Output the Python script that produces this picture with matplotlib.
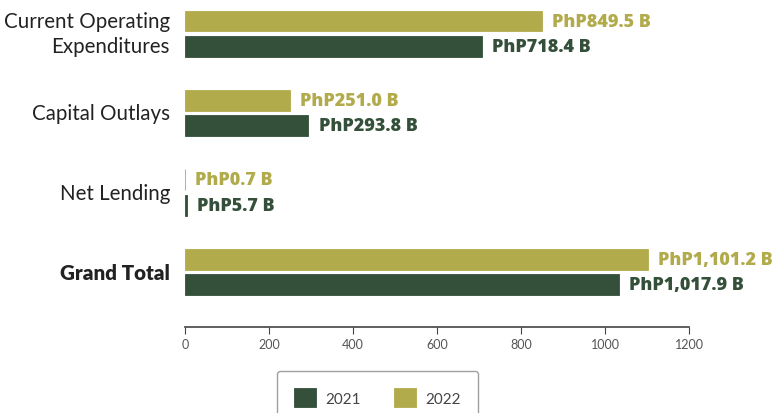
import matplotlib.pyplot as plt
import numpy as np

categories = ['Current Operating\nExpenditures', 'Capital Outlays', 'Net Lending', 'Grand Total']
# bar lengths (billion PhP)
vals_2021 = [706, 294, 5.7, 1034]
vals_2022 = [849.5, 251.0, 0.7, 1101.2]
labels_2021 = ['PhP718.4 B', 'PhP293.8 B', 'PhP5.7 B', 'PhP1,017.9 B']
labels_2022 = ['PhP849.5 B', 'PhP251.0 B', 'PhP0.7 B', 'PhP1,101.2 B']
xticks = [0, 200, 400, 600, 800, 1000, 1200]

dark = '#34503a'
olive = '#b2ab4c'

plt.rcParams['font.family'] = ['Lato', 'DejaVu Sans']

fig = plt.figure(figsize=(7.74, 4.14), dpi=100)
ax = fig.add_axes([185 / 774, 86 / 414, 504 / 774, 328 / 414])

y = np.arange(len(categories))
h = 0.264
off = 0.16
b22 = ax.barh(y - off, vals_2022, height=h, color=olive, edgecolor=olive, linewidth=0.6, label='2022')
b21 = ax.barh(y + off, vals_2021, height=h, color=dark, edgecolor=dark, linewidth=0.6, label='2021')

for i in range(len(categories)):
    ax.text(vals_2022[i] + 24, y[i] - off, labels_2022[i], color=olive, fontsize=13,
            fontweight=800, va='center', ha='left', family=['Open Sans', 'DejaVu Sans'])
    ax.text(vals_2021[i] + 24, y[i] + off, labels_2021[i], color=dark, fontsize=13,
            fontweight=800, va='center', ha='left', family=['Open Sans', 'DejaVu Sans'])

ax.set_xlim(0, 1200)
ax.set_ylim(3.692, -0.437)
ax.set_xticks(xticks)
ax.set_xticklabels([str(t) for t in xticks], fontsize=9, color='#555555')
ax.tick_params(axis='x', length=5, color='#444444', pad=3)
ax.set_yticks([])
for s in ['top', 'right', 'left']:
    ax.spines[s].set_visible(False)
ax.spines['bottom'].set_color('#444444')
ax.spines['bottom'].set_linewidth(1.2)

# category labels, right aligned ~15 px left of the axis
for i, c in enumerate(categories):
    ax.text(-36, y[i], c, ha='right', va='center', fontsize=14.8, color='#222222',
            fontweight='heavy' if c == 'Grand Total' else 'normal', linespacing=1.32)

leg = fig.legend(handles=[b21, b22], labels=['2021', '2022'], loc='upper left',
                 bbox_to_anchor=(277 / 774, 1 - 372 / 414), borderaxespad=0, ncol=2,
                 fontsize=11, frameon=True, fancybox=True, edgecolor='#888888',
                 handlelength=1.45, handleheight=1.6, handletextpad=0.6,
                 columnspacing=2.2, borderpad=1.1, labelcolor='#444444')
leg.get_frame().set_linewidth(1.0)

fig.savefig('out.png', dpi=100)
